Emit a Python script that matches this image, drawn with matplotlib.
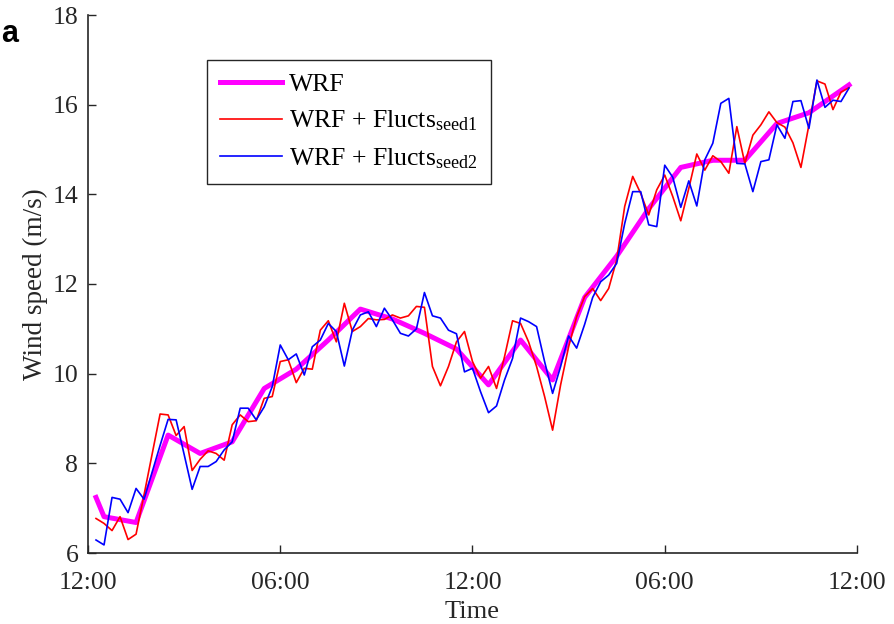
import numpy as np
import matplotlib
matplotlib.use("Agg")
import matplotlib.pyplot as plt

plt.rcParams['font.family'] = ['Liberation Serif', 'DejaVu Serif']
plt.rcParams['mathtext.fontset'] = 'custom'
plt.rcParams['mathtext.rm'] = 'Liberation Serif'
plt.rcParams['mathtext.it'] = 'Liberation Serif:italic'

# time in hours since start (12:00)
wrf_time = [0.5, 1.0, 3.0, 5.0, 7.0, 9.0, 11.0, 13.0, 15.0, 17.0, 19.0, 21.0,
            23.0, 25.0, 27.0, 29.0, 31.0, 33.0, 35.0, 37.0, 39.0, 41.0, 43.0,
            45.0, 47.5]
wrf_speed = [7.24, 6.81, 6.68, 8.63, 8.22, 8.48, 9.67, 10.10, 10.75, 11.44,
             11.22, 10.90, 10.55, 9.75, 10.75, 9.86, 11.70, 12.62, 13.68,
             14.60, 14.76, 14.76, 15.58, 15.82, 16.44]

fluct_time = np.arange(0.5, 48.0, 0.5)

seed1_speed = [6.77, 6.66, 6.50, 6.81, 6.30, 6.42, 7.30, 8.20, 9.10, 9.08,
               8.62, 8.82, 7.84, 8.09, 8.28, 8.22, 8.07, 8.86, 9.08, 8.93,
               8.95, 9.45, 9.49, 10.27, 10.31, 9.80, 10.12, 10.10, 10.97, 11.18,
               10.71, 11.57, 10.94, 11.05, 11.23, 11.20, 11.21, 11.31, 11.24, 11.29,
               11.50, 11.48, 10.16, 9.73, 10.16, 10.71, 10.94, 10.27, 9.90, 10.16,
               9.67, 10.38, 11.18, 11.12, 10.71, 10.16, 9.49, 8.74, 9.75, 10.60,
               11.27, 11.72, 11.90, 11.63, 11.90, 12.54, 13.73, 14.40, 14.02, 13.54,
               14.10, 14.43, 13.95, 13.41, 14.13, 14.90, 14.54, 14.86, 14.73, 14.47,
               15.51, 14.69, 15.32, 15.55, 15.84, 15.60, 15.50, 15.15, 14.60, 15.55,
               16.53, 16.46, 15.89, 16.28, 16.38]

seed2_speed = [6.29, 6.18, 7.24, 7.20, 6.90, 7.44, 7.20, 7.80, 8.40, 8.98,
               8.97, 8.20, 7.42, 7.93, 7.93, 8.04, 8.30, 8.48, 9.23, 9.23,
               8.97, 9.26, 9.71, 10.64, 10.31, 10.44, 9.97, 10.60, 10.75, 11.12,
               10.94, 10.17, 10.97, 11.31, 11.38, 11.05, 11.46, 11.20, 10.90, 10.84,
               11.00, 11.81, 11.29, 11.24, 10.97, 10.89, 10.04, 10.12, 9.60, 9.13,
               9.28, 9.86, 10.34, 11.24, 11.16, 11.05, 10.27, 9.56, 10.16, 10.84,
               10.57, 11.10, 11.70, 12.05, 12.20, 12.46, 13.35, 14.06, 14.06, 13.32,
               13.28, 14.65, 14.38, 13.71, 14.30, 13.74, 14.77, 15.14, 16.03, 16.14,
               14.69, 14.68, 14.06, 14.73, 14.77, 15.55, 15.25, 16.07, 16.09, 15.47,
               16.55, 15.94, 16.10, 16.07, 16.37]

xtick_pos = [0, 12, 24, 36, 48]
xtick_labels = ['12:00', '06:00', '12:00', '06:00', '12:00']
ytick_pos = [6, 8, 10, 12, 14, 16, 18]

fig = plt.figure(figsize=(8.95, 6.24), dpi=100)
ax = fig.add_axes([88 / 895, 71 / 624, 769 / 895, 538 / 624])

axcol = '#262626'
ax.plot(wrf_time, wrf_speed, color='#FF00FF', lw=3.6, label='WRF', zorder=2,
        solid_joinstyle='round')
ax.plot(fluct_time, seed1_speed, color='#FF0000', lw=1.2,
        label=r'WRF + Flucts$_{\mathrm{seed1}}$', zorder=3)
ax.plot(fluct_time, seed2_speed, color='#0000FF', lw=1.2,
        label=r'WRF + Flucts$_{\mathrm{seed2}}$', zorder=4)

ax.set_xlim(0, 48)
ax.set_ylim(6, 18)
ax.set_xticks(xtick_pos)
ax.set_xticklabels(xtick_labels)
ax.set_yticks(ytick_pos)
ax.tick_params(direction='in', length=6, width=1, colors=axcol,
               labelsize=18.5)
ax.tick_params(axis='x', pad=14)
ax.tick_params(axis='y', pad=7)
for s in ['top', 'right']:
    ax.spines[s].set_visible(False)
for s in ['left', 'bottom']:
    ax.spines[s].set_color(axcol)
    ax.spines[s].set_linewidth(1.2)

ax.set_xlabel('Time', fontsize=19, color=axcol, labelpad=5)
ax.set_ylabel('Wind speed (m/s)', fontsize=19.5, color=axcol, labelpad=3)

leg = ax.legend(loc='upper left', bbox_to_anchor=(0.155, 0.916),
                fontsize=18.5, frameon=True, fancybox=False, framealpha=1,
                edgecolor=axcol, handlelength=2.4, handletextpad=0.3,
                borderpad=0.5, labelspacing=0.5, borderaxespad=0)
leg.get_frame().set_linewidth(1.0)

fig.text(0.001, 0.945, 'a', fontsize=22, fontweight='bold',
         family='Liberation Sans', color='black', va='center', ha='left')

fig.savefig('out.png', dpi=100)
